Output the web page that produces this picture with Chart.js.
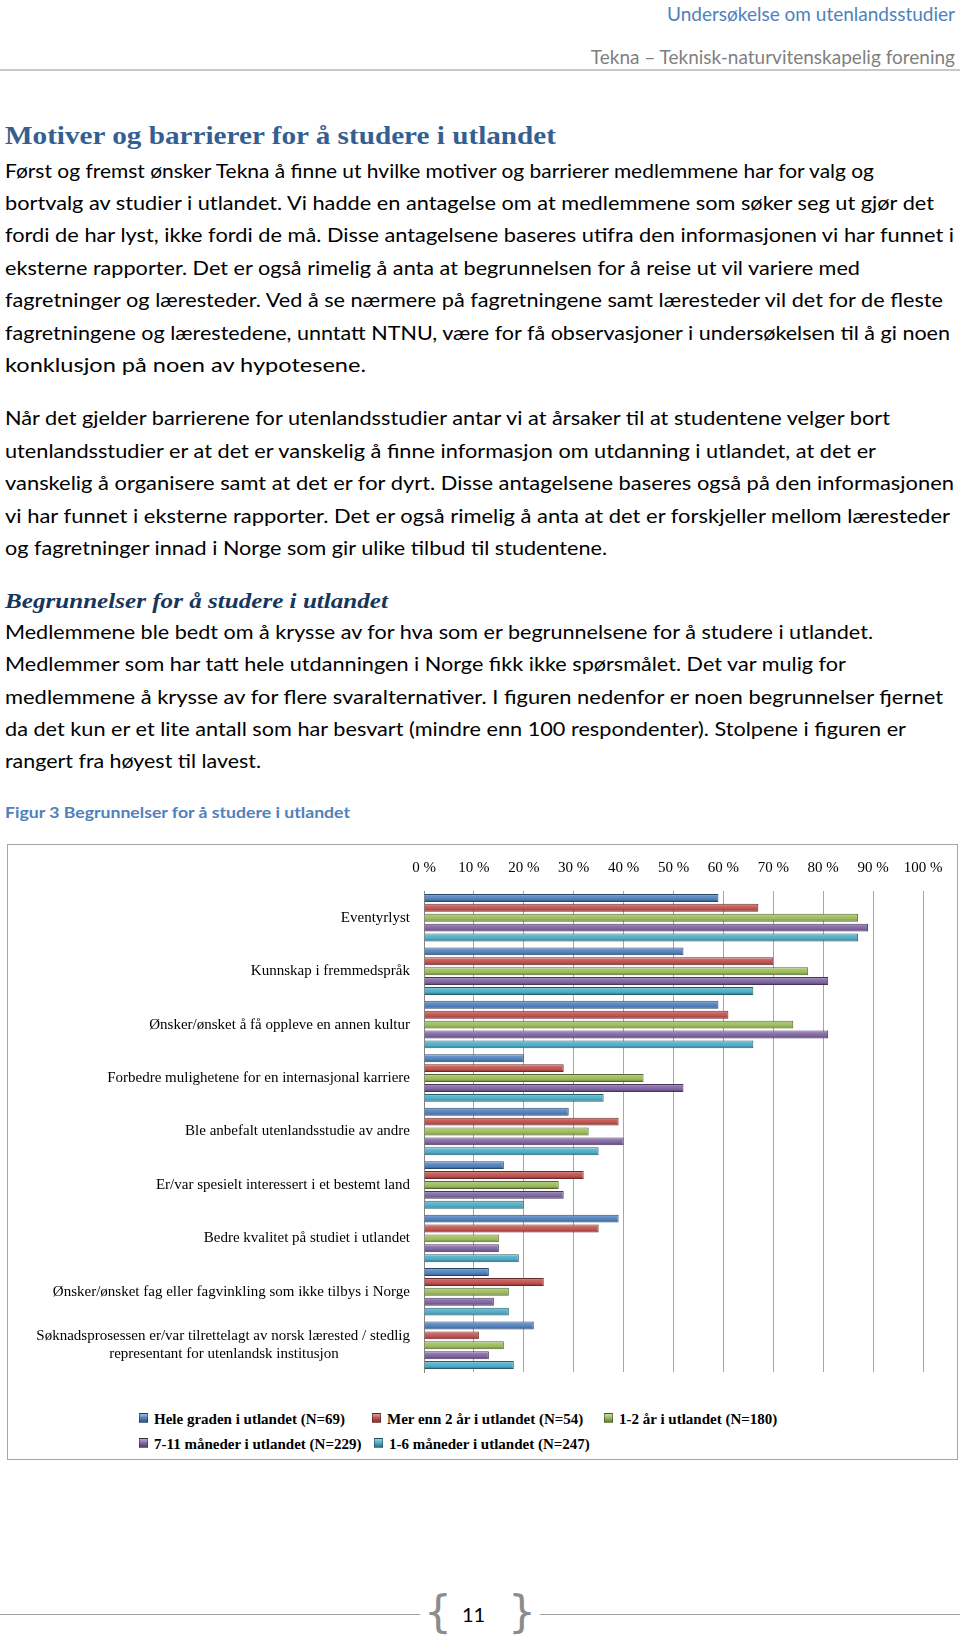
<!DOCTYPE html>
<html>
<head>
<meta charset="utf-8">
<script src="https://cdn.jsdelivr.net/npm/chart.js@4.4.1/dist/chart.umd.min.js"></script>
<style>
  body { margin: 0; width: 960px; height: 1640px; position: relative; background: #fff; overflow: hidden; }
  .ln { position: absolute; left: 5px; white-space: nowrap; transform-origin: 0 50%;
        font-family: Lato, 'Open Sans', sans-serif; font-size: 19px; line-height: 24px; color: #000; }
  .hd { position: absolute; right: 5px; white-space: nowrap; font-family: Lato, sans-serif; font-size: 19px; line-height: 24px; }
  #frame { position: absolute; left: 7px; top: 844px; width: 951px; height: 616px; box-sizing: border-box; border: 1px solid #a6a6a6; }
  #chart { position: absolute; left: 8px; top: 845px; }
  .lg { position: absolute; white-space: nowrap; font-family: 'Liberation Serif', serif; font-weight: bold; font-size: 15px; line-height: 18px; color: #000; }
  .lg i { display: inline-block; width: 7px; height: 8px; margin-right: 6px; vertical-align: 1px; border: 1px solid rgba(0,0,0,0.35); }
</style>
</head>
<body>

<div class="hd" style="top:2px;color:#4f81bd">Undersøkelse om utenlandsstudier</div>
<div class="hd" style="top:45px;color:#7f7f7f">Tekna – Teknisk-naturvitenskapelig forening</div>
<div style="position:absolute;left:0;top:69px;width:960px;height:2px;background:#c8c8c8"></div>

<div id="text"></div>

<div id="frame"></div>
<canvas id="chart" width="949" height="550"></canvas>
<div id="legend"></div>

<div style="position:absolute;left:0;top:1614px;width:960px;height:1px;background:#a0a0a0"></div>
<div style="position:absolute;left:420px;top:1588px;width:120px;height:52px;background:#fff"></div>
<div style="position:absolute;left:424px;top:1584px;font-family:'DejaVu Sans';font-size:44px;line-height:56px;color:#8c8c8c">{</div>
<div style="position:absolute;left:508px;top:1584px;font-family:'DejaVu Sans';font-size:44px;line-height:56px;color:#8c8c8c">}</div>
<div style="position:absolute;left:462px;top:1601px;font-family:Lato,sans-serif;font-size:20px;line-height:26px;color:#000">11</div>

<script>
// ---- chart data ----
const categories = [
  'Eventyrlyst',
  'Kunnskap i fremmedspråk',
  'Ønsker/ønsket å få oppleve en annen kultur',
  'Forbedre mulighetene for en internasjonal karriere',
  'Ble anbefalt utenlandsstudie av andre',
  'Er/var spesielt interessert i et bestemt land',
  'Bedre kvalitet på studiet i utlandet',
  'Ønsker/ønsket fag eller fagvinkling som ikke tilbys i Norge',
  ['Søknadsprosessen er/var tilrettelagt av norsk lærested / stedlig', 'representant for utenlandsk institusjon']
];
const seriesNames = [
  'Hele graden i utlandet (N=69)',
  'Mer enn 2 år i utlandet (N=54)',
  '1-2 år i utlandet (N=180)',
  '7-11 måneder i utlandet (N=229)',
  '1-6 måneder i utlandet (N=247)'
];
const heleGraden = [59, 52, 59, 20, 29, 16, 39, 13, 22];
const merEnn2Aar = [67, 70, 61, 28, 39, 32, 35, 24, 11];
const aar1til2   = [87, 77, 74, 44, 33, 27, 15, 17, 16];
const mnd7til11  = [89, 81, 81, 52, 40, 28, 15, 14, 13];
const mnd1til6   = [87, 66, 66, 36, 35, 20, 19, 17, 18];
const xTickStep = 10;
const xMax = 100;

const seriesValues = [heleGraden, merEnn2Aar, aar1til2, mnd7til11, mnd1til6];
const baseColors = ['#4f81bd', '#c0504d', '#9bbb59', '#8064a2', '#4bacc6'];

// ---- page text ----
// [center y, right edge x, text]
const textLines = [
  [170.5, 874, 'Først og fremst ønsker Tekna å finne ut hvilke motiver og barrierer medlemmene har for valg og'],
  [203, 934, 'bortvalg av studier i utlandet.  Vi hadde en antagelse om at medlemmene som søker seg ut gjør det'],
  [235, 954, 'fordi de har lyst, ikke fordi de må. Disse antagelsene baseres utifra den informasjonen vi har funnet i'],
  [268, 860, 'eksterne rapporter. Det er også rimelig å anta at begrunnelsen for å reise ut vil variere med'],
  [300, 943, 'fagretninger og læresteder. Ved å se nærmere på fagretningene samt læresteder vil det for de fleste'],
  [332.6, 950, 'fagretningene og lærestedene, unntatt NTNU, være for få observasjoner i undersøkelsen til å gi noen'],
  [365, 366, 'konklusjon på noen av hypotesene.'],
  [418, 890, 'Når det gjelder barrierene for utenlandsstudier antar vi at årsaker til at studentene velger bort'],
  [450.7, 876, 'utenlandsstudier er at det er vanskelig å finne informasjon om utdanning i utlandet, at det er'],
  [483, 954, 'vanskelig å organisere samt at det er for dyrt. Disse antagelsene baseres også på den informasjonen'],
  [515.6, 950, 'vi har funnet i eksterne rapporter. Det er også rimelig å anta at det er forskjeller mellom læresteder'],
  [548, 607, 'og fagretninger innad i Norge som gir ulike tilbud til studentene.'],
  [631.7, 873, 'Medlemmene ble bedt om å krysse av for hva som er begrunnelsene for å studere i utlandet.'],
  [664, 846, 'Medlemmer som har tatt hele utdanningen i Norge fikk ikke spørsmålet. Det var mulig for'],
  [696.5, 943, 'medlemmene å krysse av for flere svaralternativer. I figuren nedenfor er noen begrunnelser fjernet'],
  [729, 906, 'da det kun er et lite antall som har besvart (mindre enn 100 respondenter). Stolpene i figuren er'],
  [761, 261, 'rangert fra høyest til lavest.']
];
const headings = [
  [136, 556, 'Motiver og barrierer for å studere i utlandet', "bold 25px 'Liberation Serif'", '#365f91'],
  [601, 388, 'Begrunnelser for å studere i utlandet', "italic bold 21px 'Liberation Serif'", '#17365d'],
  [811.5, 350, 'Figur 3 Begrunnelser for å studere i utlandet', "bold 15px Lato", '#4f81bd']
];

const textBox = document.getElementById('text');
const fitted = [];
function addLine(y, endX, str, font, color) {
  const d = document.createElement('div');
  d.className = 'ln';
  d.textContent = str;
  if (font) d.style.font = font;
  if (color) d.style.color = color;
  d.style.lineHeight = '30px';
  d.style.top = (y - 15) + 'px';
  textBox.appendChild(d);
  fitted.push([d, endX - 5]);
}
textLines.forEach(l => addLine(l[0], l[1], l[2]));
headings.forEach(h => addLine(h[0], h[1], h[2], h[3], h[4]));
function fitLines() {
  fitted.forEach(([d, w]) => {
    d.style.transform = 'none';
    const nat = d.getBoundingClientRect().width;
    d.style.transform = 'scaleX(' + (w / nat) + ')';
  });
}
fitLines();
document.fonts.ready.then(fitLines);

// ---- colours ----
function mix(hex, target, amt) {
  const n = parseInt(hex.slice(1), 16);
  const c = [n >> 16, (n >> 8) & 255, n & 255].map(v => Math.round(v + (target - v) * amt));
  return 'rgb(' + c.join(',') + ')';
}

// ---- legend (html, left aligned like the original) ----
const legendSpots = [[139, 1419], [372, 1419], [604, 1419], [139, 1444], [374, 1444]];
const legendBox = document.getElementById('legend');
seriesNames.forEach((name, i) => {
  const d = document.createElement('div');
  d.className = 'lg';
  d.style.left = legendSpots[i][0] + 'px';
  d.style.top = (legendSpots[i][1] - 9) + 'px';
  const sw = document.createElement('i');
  sw.style.background = 'linear-gradient(' + mix(baseColors[i], 255, 0.45) + ',' + baseColors[i] + ' 50%,' + mix(baseColors[i], 0, 0.35) + ')';
  d.appendChild(sw);
  d.appendChild(document.createTextNode(name));
  legendBox.appendChild(d);
});

// ---- chart ----
const CAT_PCT = 0.926;
const BAR_PCT = 0.8;

function barFill(ctx) {
  const i = ctx.datasetIndex;
  const base = baseColors[i];
  const chart = ctx.chart;
  const y = chart.scales && chart.scales.y;
  if (!y || ctx.type !== 'data') return base;
  const center = y.getPixelForValue(ctx.dataIndex);
  const cw = (y.getPixelForValue(1) - y.getPixelForValue(0)) * CAT_PCT;
  const slot = cw / seriesValues.length;
  const top = center - cw / 2 + slot * i + slot * (1 - BAR_PCT) / 2;
  const h = slot * BAR_PCT;
  if (!isFinite(top) || !isFinite(h) || h <= 0) return base;
  const g = chart.ctx.createLinearGradient(0, top, 0, top + h);
  g.addColorStop(0, mix(base, 255, 0.45));
  g.addColorStop(0.3, mix(base, 255, 0.12));
  g.addColorStop(0.65, base);
  g.addColorStop(1, mix(base, 0, 0.35));
  return g;
}

const measureCtx = document.createElement('canvas').getContext('2d');
measureCtx.font = "15px 'Liberation Serif'";

new Chart(document.getElementById('chart'), {
  type: 'bar',
  data: {
    labels: categories,
    datasets: seriesValues.map((vals, i) => ({
      label: seriesNames[i],
      data: vals,
      backgroundColor: barFill,
      borderColor: mix(baseColors[i], 0, 0.45),
      borderWidth: 1,
      categoryPercentage: CAT_PCT,
      barPercentage: BAR_PCT
    }))
  },
  options: {
    indexAxis: 'y',
    responsive: false,
    animation: false,
    layout: { padding: { top: 0, right: 34, bottom: 3, left: 0 } },
    plugins: {
      legend: { display: false },
      tooltip: { enabled: false }
    },
    scales: {
      x: {
        position: 'top',
        min: 0,
        max: xMax,
        ticks: {
          stepSize: xTickStep,
          callback: v => v + ' %',
          color: '#000',
          font: { family: 'Liberation Serif', size: 15 },
          padding: 14,
          maxRotation: 0
        },
        grid: { color: '#a6a6a6', drawTicks: false },
        border: { display: false },
        afterFit: s => { s.height = 46; }
      },
      y: {
        ticks: {
          color: '#000',
          font: { family: 'Liberation Serif', size: 15 },
          padding: 14,
          autoSkip: false,
          callback: function (v) {
            const lab = this.getLabelForValue(v);
            if (!Array.isArray(lab)) return lab;
            // centre the second line under the first
            const w1 = measureCtx.measureText(lab[0]).width;
            const w2 = measureCtx.measureText(lab[1]).width;
            const sp = measureCtx.measureText(' ').width;
            return [lab[0], lab[1] + ' '.repeat(Math.round((w1 - w2) / 2 / sp))];
          }
        },
        grid: { display: false, drawTicks: false },
        border: { display: true, color: '#868686' },
        afterFit: s => { s.width = 416; }
      }
    }
  }
});
</script>
</body>
</html>
